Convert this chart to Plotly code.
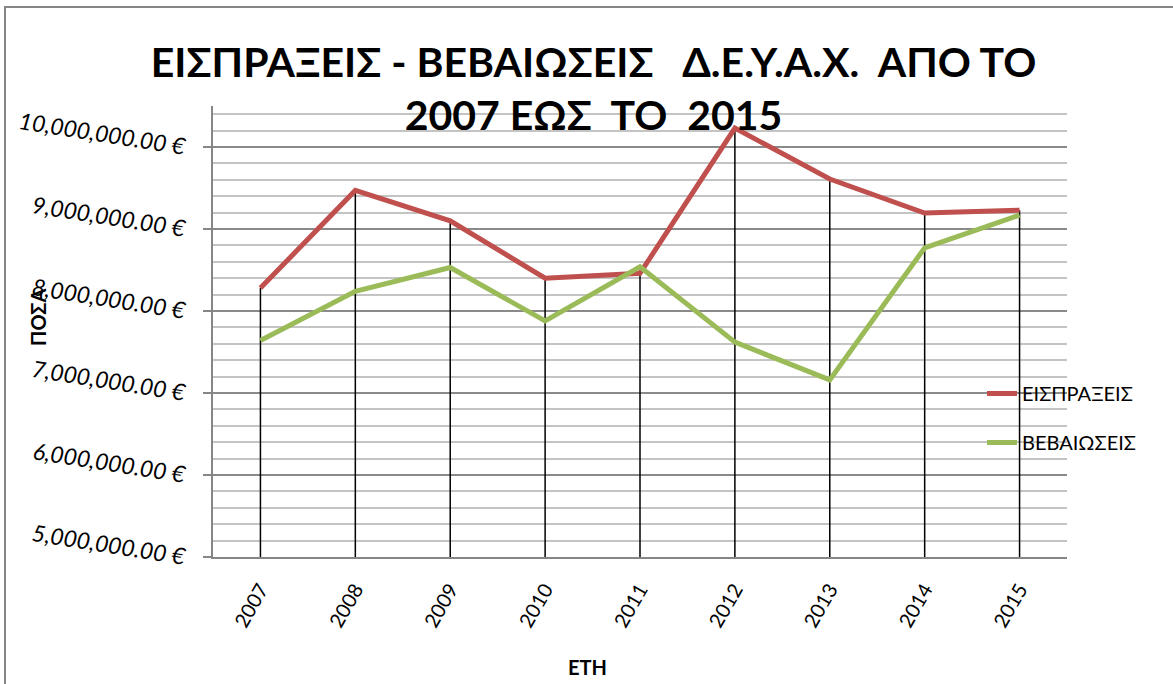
import plotly.graph_objects as go

years = ["2007", "2008", "2009", "2010", "2011", "2012", "2013", "2014", "2015"]
eispraxeis = [8280000, 9470000, 9100000, 8400000, 8460000, 10230000, 9610000, 9195000, 9230000]
vevaioseis = [7640000, 8240000, 8530000, 7880000, 8540000, 7620000, 7160000, 8770000, 9170000]
series_names = ["ΕΙΣΠΡΑΞΕΙΣ", "ΒΕΒΑΙΩΣΕΙΣ"]
y_min, y_max = 5000000, 10500000

FONT = "Lato, 'Open Sans', sans-serif"

# drop lines from the highest point of each year down to the axis
drop_x, drop_y = [], []
for yr, a, b in zip(years, eispraxeis, vevaioseis):
    drop_x += [yr, yr, None]
    drop_y += [max(a, b), y_min, None]

fig = go.Figure()
fig.add_trace(go.Scatter(x=drop_x, y=drop_y, mode="lines",
                         line=dict(color="black", width=1.5),
                         showlegend=False, hoverinfo="skip"))
fig.add_trace(go.Scatter(x=years, y=eispraxeis, mode="lines", name=series_names[0],
                         line=dict(color="#C0504D", width=5), legendgroup="a"))
fig.add_trace(go.Scatter(x=years, y=vevaioseis, mode="lines", name=series_names[1],
                         line=dict(color="#9BBB59", width=5), legendgroup="b"))

nb = "\u00a0"
title_text = ("ΕΙΣΠΡΑΞΕΙΣ - ΒΕΒΑΙΩΣΕΙΣ" + nb * 3 + "Δ.Ε.Υ.Α.Χ." + nb * 2 + "ΑΠΟ ΤΟ"
              "<br>2007 ΕΩΣ" + nb * 2 + "ΤΟ" + nb * 2 + "2015")

L, R, T, B = 213, 1067, 106, 557
PW, PH = R - L, B - T

fig.update_layout(
    width=1173, height=684,
    paper_bgcolor="white", plot_bgcolor="white",
    margin=dict(l=L, r=1173 - R, t=T, b=684 - B, autoexpand=False),
    font=dict(family=FONT, color="black"),
    title=dict(text="<b>" + title_text + "</b>", xref="container", yref="container",
               x=0.506, xanchor="center", y=0.8876, yanchor="top",
               font=dict(family=FONT, size=41, color="black")),
    xaxis=dict(type="category", categoryarray=years, range=[-0.5, len(years) - 0.5],
               showgrid=False, automargin=False,
               showline=True, linecolor="#868686", linewidth=2,
               ticks="", tickangle=-60, ticklabelstandoff=11,
               tickfont=dict(family=FONT, size=20, color="black")),
    yaxis=dict(range=[y_min, y_max], tick0=0, dtick=1000000, automargin=False,
               showgrid=True, gridcolor="#8a8a8a", gridwidth=1.5,
               minor=dict(dtick=200000, showgrid=True, gridcolor="#c4c4c4", gridwidth=1.5),
               showline=True, linecolor="#868686", linewidth=2,
               ticks="outside", ticklen=8, tickcolor="#868686", tickwidth=2,
               tickformat=",.2f", ticksuffix=" €", tickangle=9, ticklabelstandoff=13,
               tickfont=dict(family=FONT, size=23, color="black", style="italic"),
               zeroline=False),
    legend=dict(x=(982 - L) / PW, xanchor="left", y=(B - 374) / PH, yanchor="top",
                bgcolor="rgba(0,0,0,0)", font=dict(family=FONT, size=20, color="black"),
                tracegroupgap=20, traceorder="grouped"),
    shapes=[dict(type="rect", xref="paper", yref="paper",
                 x0=(5 - L) / PW, x1=(1400 - L) / PW,
                 y0=(B - 800) / PH, y1=(B - 7) / PH,
                 line=dict(color="#868686", width=2), fillcolor="rgba(0,0,0,0)", layer="below")],
    annotations=[
        dict(text="<b>ΠΟΣΑ</b>", xref="paper", yref="paper",
             x=(38 - L) / PW, y=(B - 318) / PH, textangle=-90, showarrow=False,
             xanchor="center", yanchor="middle", font=dict(family=FONT, size=20, color="black")),
        dict(text="<b>ΕΤΗ</b>", xref="paper", yref="paper",
             x=(587 - L) / PW, y=(B - 667) / PH, showarrow=False,
             xanchor="center", yanchor="middle", font=dict(family=FONT, size=20, color="black")),
    ],
)

fig.write_html("out.html", config={"displayModeBar": False},
               post_script="document.body.style.margin='0px';")
